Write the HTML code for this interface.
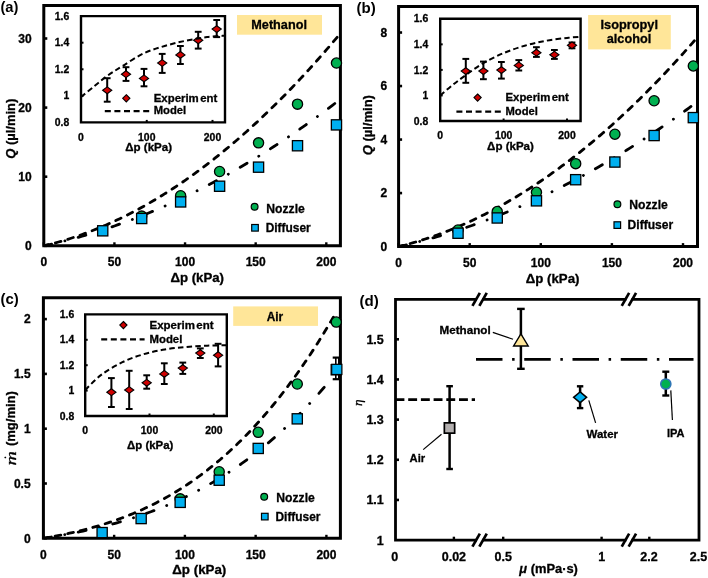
<!DOCTYPE html><html><head><meta charset="utf-8"><style>html,body{margin:0;padding:0;background:#fff;}svg{display:block;filter:blur(0.35px);}text{stroke:#000;stroke-width:0.3px;paint-order:fill;font-family:'Liberation Sans', sans-serif;fill:#000;}</style></head><body>
<svg width="708" height="578" viewBox="0 0 708 578">
<rect width="708" height="578" fill="#fff"/>
<clipPath id="clipa"><rect x="43.8" y="5.4" width="296.6" height="240.4"/></clipPath>
<g clip-path="url(#clipa)">
<path d="M43.8 245.8 L46.75 245.1 L49.69 244.37 L52.64 243.62 L55.58 242.83 L58.53 242.02 L61.47 241.18 L64.42 240.31 L67.36 239.41 L70.31 238.48 L73.25 237.53 L76.2 236.55 L79.14 235.54 L82.09 234.5 L85.03 233.43 L87.98 232.33 L90.92 231.21 L93.87 230.06 L96.81 228.88 L99.76 227.67 L102.7 226.43 L105.65 225.17 L108.59 223.87 L111.54 222.55 L114.48 221.2 L117.43 219.82 L120.37 218.42 L123.32 216.98 L126.26 215.52 L129.21 214.03 L132.15 212.51 L135.1 210.96 L138.04 209.38 L140.99 207.78 L143.93 206.14 L146.88 204.48 L149.82 202.79 L152.77 201.08 L155.71 199.33 L158.66 197.56 L161.6 195.75 L164.55 193.92 L167.49 192.06 L170.44 190.18 L173.38 188.26 L176.33 186.32 L179.27 184.34 L182.22 182.34 L185.16 180.32 L188.11 178.26 L191.05 176.17 L194 174.06 L196.94 171.92 L199.89 169.75 L202.83 167.55 L205.78 165.32 L208.72 163.07 L211.67 160.78 L214.61 158.47 L217.56 156.13 L220.5 153.77 L223.45 151.37 L226.39 148.95 L229.34 146.49 L232.28 144.01 L235.23 141.5 L238.17 138.96 L241.12 136.4 L244.06 133.8 L247.01 131.18 L249.95 128.53 L252.9 125.85 L255.84 123.15 L258.79 120.41 L261.73 117.65 L264.68 114.85 L267.62 112.03 L270.57 109.18 L273.51 106.31 L276.46 103.4 L279.41 100.47 L282.35 97.51 L285.3 94.52 L288.24 91.5 L291.19 88.45 L294.13 85.38 L297.08 82.28 L300.02 79.14 L302.97 75.98 L305.91 72.8 L308.86 69.58 L311.8 66.34 L314.75 63.06 L317.69 59.76 L320.64 56.43 L323.58 53.08 L326.53 49.69 L329.47 46.28 L332.42 42.83 L335.36 39.36 L338.31 35.86" fill="none" stroke="#000" stroke-width="2.8" stroke-dasharray="5.8 7.1" stroke-linecap="round" stroke-dashoffset="1"/>
<path d="M43.8 245.8 L46.75 245.16 L49.69 244.51 L52.64 243.84 L55.58 243.15 L58.53 242.45 L61.47 241.73 L64.42 240.99 L67.36 240.24 L70.31 239.47 L73.25 238.68 L76.2 237.88 L79.14 237.06 L82.09 236.23 L85.03 235.38 L87.98 234.51 L90.92 233.63 L93.87 232.73 L96.81 231.81 L99.76 230.88 L102.7 229.93 L105.65 228.96 L108.59 227.98 L111.54 226.98 L114.48 225.96 L117.43 224.93 L120.37 223.88 L123.32 222.82 L126.26 221.74 L129.21 220.64 L132.15 219.53 L135.1 218.4 L138.04 217.25 L140.99 216.09 L143.93 214.91 L146.88 213.71 L149.82 212.5 L152.77 211.27 L155.71 210.03 L158.66 208.77 L161.6 207.49 L164.55 206.2 L167.49 204.89 L170.44 203.56 L173.38 202.22 L176.33 200.86 L179.27 199.48 L182.22 198.09 L185.16 196.68 L188.11 195.25 L191.05 193.81 L194 192.35 L196.94 190.88 L199.89 189.39 L202.83 187.88 L205.78 186.36 L208.72 184.82 L211.67 183.26 L214.61 181.69 L217.56 180.1 L220.5 178.49 L223.45 176.87 L226.39 175.23 L229.34 173.58 L232.28 171.91 L235.23 170.22 L238.17 168.52 L241.12 166.8 L244.06 165.06 L247.01 163.31 L249.95 161.54 L252.9 159.75 L255.84 157.95 L258.79 156.13 L261.73 154.29 L264.68 152.44 L267.62 150.57 L270.57 148.69 L273.51 146.79 L276.46 144.87 L279.41 142.94 L282.35 140.99 L285.3 139.02 L288.24 137.04 L291.19 135.04 L294.13 133.02 L297.08 130.99 L300.02 128.94 L302.97 126.88 L305.91 124.8 L308.86 122.7 L311.8 120.58 L314.75 118.45 L317.69 116.31 L320.64 114.14 L323.58 111.96 L326.53 109.77 L329.47 107.55 L332.42 105.32 L335.36 103.08 L338.31 100.82" fill="none" stroke="#000" stroke-width="2.8" stroke-dasharray="8 13.65 0.1 13.65" stroke-linecap="round" stroke-dashoffset="0"/>
</g>
<path d="M43.8 5.4H340.4V245.8H43.8Z" fill="none" stroke="#000" stroke-width="3" stroke-linejoin="miter"/>
<line x1="43.8" y1="245.8" x2="47.3" y2="245.8" stroke="#000" stroke-width="2.6"/>
<line x1="43.8" y1="176.7" x2="47.3" y2="176.7" stroke="#000" stroke-width="2.6"/>
<line x1="43.8" y1="107.6" x2="47.3" y2="107.6" stroke="#000" stroke-width="2.6"/>
<line x1="43.8" y1="38.5" x2="47.3" y2="38.5" stroke="#000" stroke-width="2.6"/>
<line x1="43.8" y1="245.8" x2="43.8" y2="242.3" stroke="#000" stroke-width="2.4"/>
<line x1="114.42" y1="245.8" x2="114.42" y2="242.3" stroke="#000" stroke-width="2.4"/>
<line x1="185.05" y1="245.8" x2="185.05" y2="242.3" stroke="#000" stroke-width="2.4"/>
<line x1="255.68" y1="245.8" x2="255.68" y2="242.3" stroke="#000" stroke-width="2.4"/>
<line x1="326.3" y1="245.8" x2="326.3" y2="242.3" stroke="#000" stroke-width="2.4"/>
<circle cx="141.69" cy="216.09" r="5.1" fill="#00B050" stroke="#000" stroke-width="1.3"/>
<circle cx="180.64" cy="195.7" r="5.1" fill="#00B050" stroke="#000" stroke-width="1.3"/>
<circle cx="219.6" cy="171.52" r="5.1" fill="#00B050" stroke="#000" stroke-width="1.3"/>
<circle cx="258.55" cy="142.84" r="5.1" fill="#00B050" stroke="#000" stroke-width="1.3"/>
<circle cx="297.51" cy="104.15" r="5.1" fill="#00B050" stroke="#000" stroke-width="1.3"/>
<circle cx="336.47" cy="63.03" r="5.1" fill="#00B050" stroke="#000" stroke-width="1.3"/>
<rect x="97.63" y="225.71" width="10.2" height="10.2" fill="#00B0F0" stroke="#000" stroke-width="1.3"/>
<rect x="136.59" y="213.41" width="10.2" height="10.2" fill="#00B0F0" stroke="#000" stroke-width="1.3"/>
<rect x="175.54" y="196.82" width="10.2" height="10.2" fill="#00B0F0" stroke="#000" stroke-width="1.3"/>
<rect x="214.5" y="181.14" width="10.2" height="10.2" fill="#00B0F0" stroke="#000" stroke-width="1.3"/>
<rect x="253.45" y="162.06" width="10.2" height="10.2" fill="#00B0F0" stroke="#000" stroke-width="1.3"/>
<rect x="292.41" y="140.64" width="10.2" height="10.2" fill="#00B0F0" stroke="#000" stroke-width="1.3"/>
<rect x="331.37" y="119.78" width="10.2" height="10.2" fill="#00B0F0" stroke="#000" stroke-width="1.3"/>
<text x="31.6" y="250.1" font-size="12" font-weight="bold" text-anchor="end">0</text>
<text x="31.6" y="181" font-size="12" font-weight="bold" text-anchor="end">10</text>
<text x="31.6" y="111.9" font-size="12" font-weight="bold" text-anchor="end">20</text>
<text x="31.6" y="42.8" font-size="12" font-weight="bold" text-anchor="end">30</text>
<text x="43.8" y="265.9" font-size="12" font-weight="bold" text-anchor="middle">0</text>
<text x="114.42" y="265.9" font-size="12" font-weight="bold" text-anchor="middle">50</text>
<text x="185.05" y="265.9" font-size="12" font-weight="bold" text-anchor="middle">100</text>
<text x="255.68" y="265.9" font-size="12" font-weight="bold" text-anchor="middle">150</text>
<text x="326.3" y="265.9" font-size="12" font-weight="bold" text-anchor="middle">200</text>
<circle cx="254.6" cy="206.8" r="3.4" fill="#00B050" stroke="#000" stroke-width="1.2"/>
<rect x="251.7" y="224.5" width="6.6" height="6.6" fill="#00B0F0" stroke="#000" stroke-width="1.2"/>
<text x="266.3" y="212.8" font-size="12" font-weight="bold" textLength="38.5" lengthAdjust="spacingAndGlyphs">Nozzle</text>
<text x="265.7" y="231.7" font-size="12" font-weight="bold" textLength="45" lengthAdjust="spacingAndGlyphs">Diffuser</text>
<rect x="237" y="15" width="85" height="19.7" fill="#FFE699"/>
<text x="251.3" y="28.8" font-size="12.5" font-weight="bold" textLength="55.6" lengthAdjust="spacingAndGlyphs">Methanol</text>
<clipPath id="clipb"><rect x="398.6" y="6.6" width="298.9" height="240"/></clipPath>
<g clip-path="url(#clipb)">
<path d="M398.6 246.6 L401.56 245.87 L404.53 245.1 L407.49 244.32 L410.46 243.5 L413.42 242.66 L416.39 241.79 L419.35 240.9 L422.32 239.97 L425.28 239.02 L428.25 238.05 L431.21 237.04 L434.18 236.01 L437.14 234.96 L440.11 233.87 L443.07 232.76 L446.04 231.62 L449 230.46 L451.97 229.27 L454.93 228.05 L457.9 226.8 L460.86 225.53 L463.83 224.23 L466.79 222.9 L469.76 221.55 L472.72 220.17 L475.69 218.76 L478.65 217.33 L481.62 215.87 L484.58 214.38 L487.55 212.86 L490.51 211.32 L493.48 209.75 L496.44 208.16 L499.41 206.53 L502.37 204.88 L505.34 203.21 L508.3 201.5 L511.27 199.77 L514.23 198.02 L517.19 196.23 L520.16 194.42 L523.12 192.58 L526.09 190.72 L529.05 188.83 L532.02 186.91 L534.98 184.96 L537.95 182.99 L540.91 180.99 L543.88 178.96 L546.84 176.91 L549.81 174.83 L552.77 172.72 L555.74 170.59 L558.7 168.43 L561.67 166.24 L564.63 164.02 L567.6 161.78 L570.56 159.51 L573.53 157.22 L576.49 154.89 L579.46 152.54 L582.42 150.17 L585.39 147.76 L588.35 145.33 L591.32 142.88 L594.28 140.39 L597.25 137.88 L600.21 135.34 L603.18 132.78 L606.14 130.18 L609.11 127.57 L612.07 124.92 L615.04 122.25 L618 119.55 L620.97 116.82 L623.93 114.07 L626.89 111.29 L629.86 108.48 L632.82 105.64 L635.79 102.78 L638.75 99.9 L641.72 96.98 L644.68 94.04 L647.65 91.07 L650.61 88.07 L653.58 85.05 L656.54 82 L659.51 78.92 L662.47 75.82 L665.44 72.69 L668.4 69.53 L671.37 66.35 L674.33 63.14 L677.3 59.9 L680.26 56.63 L683.23 53.34 L686.19 50.02 L689.16 46.68 L692.12 43.3 L695.09 39.9" fill="none" stroke="#000" stroke-width="2.8" stroke-dasharray="5.8 7.1" stroke-linecap="round" stroke-dashoffset="1"/>
<path d="M398.6 246.6 L401.56 245.93 L404.53 245.24 L407.49 244.54 L410.46 243.82 L413.42 243.09 L416.39 242.34 L419.35 241.58 L422.32 240.8 L425.28 240.01 L428.25 239.2 L431.21 238.37 L434.18 237.53 L437.14 236.68 L440.11 235.81 L443.07 234.92 L446.04 234.02 L449 233.1 L451.97 232.17 L454.93 231.22 L457.9 230.26 L460.86 229.28 L463.83 228.29 L466.79 227.28 L469.76 226.25 L472.72 225.21 L475.69 224.16 L478.65 223.09 L481.62 222 L484.58 220.9 L487.55 219.78 L490.51 218.65 L493.48 217.51 L496.44 216.34 L499.41 215.16 L502.37 213.97 L505.34 212.76 L508.3 211.54 L511.27 210.3 L514.23 209.04 L517.19 207.77 L520.16 206.49 L523.12 205.19 L526.09 203.87 L529.05 202.54 L532.02 201.19 L534.98 199.83 L537.95 198.45 L540.91 197.06 L543.88 195.65 L546.84 194.23 L549.81 192.79 L552.77 191.34 L555.74 189.87 L558.7 188.38 L561.67 186.88 L564.63 185.37 L567.6 183.83 L570.56 182.29 L573.53 180.73 L576.49 179.15 L579.46 177.56 L582.42 175.95 L585.39 174.33 L588.35 172.69 L591.32 171.03 L594.28 169.36 L597.25 167.68 L600.21 165.98 L603.18 164.26 L606.14 162.53 L609.11 160.79 L612.07 159.03 L615.04 157.25 L618 155.46 L620.97 153.65 L623.93 151.83 L626.89 149.99 L629.86 148.13 L632.82 146.27 L635.79 144.38 L638.75 142.48 L641.72 140.57 L644.68 138.64 L647.65 136.69 L650.61 134.73 L653.58 132.75 L656.54 130.76 L659.51 128.75 L662.47 126.73 L665.44 124.69 L668.4 122.64 L671.37 120.57 L674.33 118.49 L677.3 116.39 L680.26 114.28 L683.23 112.15 L686.19 110 L689.16 107.84 L692.12 105.66 L695.09 103.47" fill="none" stroke="#000" stroke-width="2.8" stroke-dasharray="8 13.65 0.1 13.65" stroke-linecap="round" stroke-dashoffset="0"/>
</g>
<path d="M398.6 6.6H697.5V246.6H398.6Z" fill="none" stroke="#000" stroke-width="3" stroke-linejoin="miter"/>
<line x1="398.6" y1="246.6" x2="402.1" y2="246.6" stroke="#000" stroke-width="2.6"/>
<line x1="398.6" y1="193.08" x2="402.1" y2="193.08" stroke="#000" stroke-width="2.6"/>
<line x1="398.6" y1="139.56" x2="402.1" y2="139.56" stroke="#000" stroke-width="2.6"/>
<line x1="398.6" y1="86.04" x2="402.1" y2="86.04" stroke="#000" stroke-width="2.6"/>
<line x1="398.6" y1="32.52" x2="402.1" y2="32.52" stroke="#000" stroke-width="2.6"/>
<line x1="398.6" y1="246.6" x2="398.6" y2="243.1" stroke="#000" stroke-width="2.4"/>
<line x1="469.7" y1="246.6" x2="469.7" y2="243.1" stroke="#000" stroke-width="2.4"/>
<line x1="540.8" y1="246.6" x2="540.8" y2="243.1" stroke="#000" stroke-width="2.4"/>
<line x1="611.9" y1="246.6" x2="611.9" y2="243.1" stroke="#000" stroke-width="2.4"/>
<line x1="683" y1="246.6" x2="683" y2="243.1" stroke="#000" stroke-width="2.4"/>
<circle cx="458.03" cy="230.01" r="5.1" fill="#00B050" stroke="#000" stroke-width="1.3"/>
<circle cx="497.24" cy="211.54" r="5.1" fill="#00B050" stroke="#000" stroke-width="1.3"/>
<circle cx="536.46" cy="192.28" r="5.1" fill="#00B050" stroke="#000" stroke-width="1.3"/>
<circle cx="575.68" cy="163.64" r="5.1" fill="#00B050" stroke="#000" stroke-width="1.3"/>
<circle cx="614.9" cy="134.21" r="5.1" fill="#00B050" stroke="#000" stroke-width="1.3"/>
<circle cx="654.11" cy="100.76" r="5.1" fill="#00B050" stroke="#000" stroke-width="1.3"/>
<circle cx="693.33" cy="65.97" r="5.1" fill="#00B050" stroke="#000" stroke-width="1.3"/>
<rect x="452.93" y="228.12" width="10.2" height="10.2" fill="#00B0F0" stroke="#000" stroke-width="1.3"/>
<rect x="492.14" y="212.87" width="10.2" height="10.2" fill="#00B0F0" stroke="#000" stroke-width="1.3"/>
<rect x="531.36" y="195.74" width="10.2" height="10.2" fill="#00B0F0" stroke="#000" stroke-width="1.3"/>
<rect x="570.58" y="174.6" width="10.2" height="10.2" fill="#00B0F0" stroke="#000" stroke-width="1.3"/>
<rect x="609.8" y="156.94" width="10.2" height="10.2" fill="#00B0F0" stroke="#000" stroke-width="1.3"/>
<rect x="649.01" y="130.45" width="10.2" height="10.2" fill="#00B0F0" stroke="#000" stroke-width="1.3"/>
<rect x="688.23" y="112.52" width="10.2" height="10.2" fill="#00B0F0" stroke="#000" stroke-width="1.3"/>
<text x="387.2" y="250.9" font-size="12" font-weight="bold" text-anchor="end">0</text>
<text x="387.2" y="197.38" font-size="12" font-weight="bold" text-anchor="end">2</text>
<text x="387.2" y="143.86" font-size="12" font-weight="bold" text-anchor="end">4</text>
<text x="387.2" y="90.34" font-size="12" font-weight="bold" text-anchor="end">6</text>
<text x="387.2" y="36.82" font-size="12" font-weight="bold" text-anchor="end">8</text>
<text x="398.6" y="266.6" font-size="12" font-weight="bold" text-anchor="middle">0</text>
<text x="469.7" y="266.6" font-size="12" font-weight="bold" text-anchor="middle">50</text>
<text x="540.8" y="266.6" font-size="12" font-weight="bold" text-anchor="middle">100</text>
<text x="611.9" y="266.6" font-size="12" font-weight="bold" text-anchor="middle">150</text>
<text x="683" y="266.6" font-size="12" font-weight="bold" text-anchor="middle">200</text>
<circle cx="617.4" cy="204.2" r="3.4" fill="#00B050" stroke="#000" stroke-width="1.2"/>
<rect x="614" y="221.8" width="6.6" height="6.6" fill="#00B0F0" stroke="#000" stroke-width="1.2"/>
<text x="629.3" y="209.1" font-size="12" font-weight="bold" textLength="38.5" lengthAdjust="spacingAndGlyphs">Nozzle</text>
<text x="627.6" y="228.8" font-size="12" font-weight="bold" textLength="45.6" lengthAdjust="spacingAndGlyphs">Diffuser</text>
<rect x="588.1" y="15" width="82.7" height="34.4" fill="#FFE699"/>
<text x="600.5" y="28.9" font-size="12.5" font-weight="bold" textLength="57.5" lengthAdjust="spacingAndGlyphs">Isopropyl</text>
<text x="606.8" y="43.4" font-size="12.5" font-weight="bold" textLength="44.4" lengthAdjust="spacingAndGlyphs">alcohol</text>
<clipPath id="clipc"><rect x="43.4" y="297.7" width="297" height="240.6"/></clipPath>
<g clip-path="url(#clipc)">
<path d="M43.4 538.3 L46.3 537.8 L49.2 537.29 L52.1 536.76 L55 536.21 L57.9 535.65 L60.8 535.08 L63.71 534.48 L66.61 533.87 L69.51 533.24 L72.41 532.59 L75.31 531.93 L78.21 531.24 L81.11 530.53 L84.01 529.8 L86.91 529.04 L89.81 528.27 L92.71 527.47 L95.61 526.64 L98.51 525.79 L101.41 524.92 L104.32 524.02 L107.22 523.09 L110.12 522.14 L113.02 521.16 L115.92 520.15 L118.82 519.11 L121.72 518.04 L124.62 516.94 L127.52 515.81 L130.42 514.64 L133.32 513.45 L136.22 512.22 L139.12 510.96 L142.03 509.67 L144.93 508.34 L147.83 506.97 L150.73 505.57 L153.63 504.13 L156.53 502.65 L159.43 501.14 L162.33 499.59 L165.23 497.99 L168.13 496.36 L171.03 494.69 L173.93 492.98 L176.83 491.22 L179.74 489.42 L182.64 487.58 L185.54 485.7 L188.44 483.77 L191.34 481.8 L194.24 479.78 L197.14 477.71 L200.04 475.6 L202.94 473.44 L205.84 471.23 L208.74 468.98 L211.64 466.67 L214.54 464.32 L217.45 461.91 L220.35 459.45 L223.25 456.94 L226.15 454.38 L229.05 451.77 L231.95 449.1 L234.85 446.37 L237.75 443.6 L240.65 440.76 L243.55 437.87 L246.45 434.93 L249.35 431.92 L252.25 428.86 L255.15 425.74 L258.06 422.56 L260.96 419.31 L263.86 416.01 L266.76 412.65 L269.66 409.22 L272.56 405.74 L275.46 402.19 L278.36 398.57 L281.26 394.89 L284.16 391.15 L287.06 387.34 L289.96 383.46 L292.86 379.52 L295.77 375.51 L298.67 371.43 L301.57 367.28 L304.47 363.06 L307.37 358.77 L310.27 354.41 L313.17 349.98 L316.07 345.48 L318.97 340.9 L321.87 336.26 L324.77 331.53 L327.67 326.74 L330.57 321.86 L333.47 316.92" fill="none" stroke="#000" stroke-width="2.8" stroke-dasharray="5.8 7.1" stroke-linecap="round" stroke-dashoffset="1"/>
<path d="M43.4 538.3 L46.23 537.85 L49.06 537.4 L51.89 536.93 L54.72 536.46 L57.55 535.98 L60.38 535.48 L63.21 534.98 L66.04 534.46 L68.87 533.93 L71.7 533.39 L74.53 532.84 L77.36 532.28 L80.19 531.7 L83.02 531.11 L85.85 530.5 L88.68 529.88 L91.51 529.24 L94.34 528.59 L97.17 527.92 L100 527.24 L102.83 526.54 L105.66 525.83 L108.49 525.09 L111.32 524.34 L114.15 523.57 L116.98 522.79 L119.81 521.98 L122.64 521.15 L125.47 520.31 L128.3 519.44 L131.13 518.56 L133.96 517.65 L136.79 516.72 L139.62 515.77 L142.45 514.8 L145.28 513.8 L148.11 512.79 L150.94 511.74 L153.77 510.68 L156.6 509.59 L159.43 508.48 L162.26 507.34 L165.09 506.17 L167.92 504.98 L170.75 503.77 L173.58 502.53 L176.41 501.26 L179.24 499.96 L182.07 498.63 L184.9 497.28 L187.73 495.9 L190.56 494.49 L193.39 493.05 L196.22 491.58 L199.05 490.08 L201.88 488.55 L204.71 486.99 L207.54 485.4 L210.37 483.77 L213.2 482.11 L216.03 480.42 L218.86 478.7 L221.69 476.94 L224.52 475.15 L227.35 473.33 L230.18 471.47 L233.01 469.58 L235.84 467.65 L238.67 465.68 L241.5 463.68 L244.33 461.64 L247.16 459.57 L249.99 457.45 L252.82 455.3 L255.65 453.12 L258.48 450.89 L261.31 448.62 L264.14 446.31 L266.97 443.97 L269.8 441.58 L272.63 439.15 L275.46 436.69 L278.29 434.18 L281.12 431.62 L283.95 429.03 L286.78 426.39 L289.61 423.71 L292.44 420.99 L295.27 418.22 L298.1 415.41 L300.93 412.55 L303.76 409.65 L306.59 406.7 L309.42 403.71 L312.25 400.67 L315.08 397.59 L317.91 394.45 L320.74 391.27 L323.57 388.04 L326.4 384.76" fill="none" stroke="#000" stroke-width="2.8" stroke-dasharray="8 13.65 0.1 13.65" stroke-linecap="round" stroke-dashoffset="0"/>
</g>
<path d="M43.4 297.7H340.4V538.3H43.4Z" fill="none" stroke="#000" stroke-width="3" stroke-linejoin="miter"/>
<line x1="43.4" y1="538.3" x2="46.9" y2="538.3" stroke="#000" stroke-width="2.6"/>
<line x1="43.4" y1="483.5" x2="46.9" y2="483.5" stroke="#000" stroke-width="2.6"/>
<line x1="43.4" y1="428.7" x2="46.9" y2="428.7" stroke="#000" stroke-width="2.6"/>
<line x1="43.4" y1="373.9" x2="46.9" y2="373.9" stroke="#000" stroke-width="2.6"/>
<line x1="43.4" y1="319.1" x2="46.9" y2="319.1" stroke="#000" stroke-width="2.6"/>
<line x1="43.4" y1="538.3" x2="43.4" y2="534.8" stroke="#000" stroke-width="2.4"/>
<line x1="114.15" y1="538.3" x2="114.15" y2="534.8" stroke="#000" stroke-width="2.4"/>
<line x1="184.9" y1="538.3" x2="184.9" y2="534.8" stroke="#000" stroke-width="2.4"/>
<line x1="255.65" y1="538.3" x2="255.65" y2="534.8" stroke="#000" stroke-width="2.4"/>
<line x1="326.4" y1="538.3" x2="326.4" y2="534.8" stroke="#000" stroke-width="2.4"/>
<circle cx="180.19" cy="498.84" r="5.1" fill="#00B050" stroke="#000" stroke-width="1.3"/>
<circle cx="219.21" cy="471.77" r="5.1" fill="#00B050" stroke="#000" stroke-width="1.3"/>
<circle cx="258.23" cy="432.32" r="5.1" fill="#00B050" stroke="#000" stroke-width="1.3"/>
<circle cx="297.26" cy="383.98" r="5.1" fill="#00B050" stroke="#000" stroke-width="1.3"/>
<circle cx="336.28" cy="322.06" r="5.1" fill="#00B050" stroke="#000" stroke-width="1.3"/>
<rect x="97.04" y="527.5" width="10.2" height="10.2" fill="#00B0F0" stroke="#000" stroke-width="1.3"/>
<rect x="136.06" y="513.47" width="10.2" height="10.2" fill="#00B0F0" stroke="#000" stroke-width="1.3"/>
<rect x="175.09" y="497.25" width="10.2" height="10.2" fill="#00B0F0" stroke="#000" stroke-width="1.3"/>
<rect x="214.11" y="475.11" width="10.2" height="10.2" fill="#00B0F0" stroke="#000" stroke-width="1.3"/>
<rect x="253.13" y="443.33" width="10.2" height="10.2" fill="#00B0F0" stroke="#000" stroke-width="1.3"/>
<rect x="292.16" y="413.74" width="10.2" height="10.2" fill="#00B0F0" stroke="#000" stroke-width="1.3"/>
<rect x="331.18" y="364.64" width="10.2" height="10.2" fill="#00B0F0" stroke="#000" stroke-width="1.3"/>
<text x="30.6" y="542.6" font-size="12" font-weight="bold" text-anchor="end">0</text>
<text x="30.6" y="487.8" font-size="12" font-weight="bold" text-anchor="end">0.5</text>
<text x="30.6" y="433" font-size="12" font-weight="bold" text-anchor="end">1</text>
<text x="30.6" y="378.2" font-size="12" font-weight="bold" text-anchor="end">1.5</text>
<text x="30.6" y="323.4" font-size="12" font-weight="bold" text-anchor="end">2</text>
<text x="43.4" y="558.7" font-size="12" font-weight="bold" text-anchor="middle">0</text>
<text x="114.15" y="558.7" font-size="12" font-weight="bold" text-anchor="middle">50</text>
<text x="184.9" y="558.7" font-size="12" font-weight="bold" text-anchor="middle">100</text>
<text x="255.65" y="558.7" font-size="12" font-weight="bold" text-anchor="middle">150</text>
<text x="326.4" y="558.7" font-size="12" font-weight="bold" text-anchor="middle">200</text>
<circle cx="264.2" cy="496.8" r="3.4" fill="#00B050" stroke="#000" stroke-width="1.2"/>
<rect x="261.5" y="513.3" width="6.6" height="6.6" fill="#00B0F0" stroke="#000" stroke-width="1.2"/>
<text x="276.3" y="501.9" font-size="12" font-weight="bold" textLength="38.5" lengthAdjust="spacingAndGlyphs">Nozzle</text>
<text x="275.5" y="521" font-size="12" font-weight="bold" textLength="45" lengthAdjust="spacingAndGlyphs">Diffuser</text>
<rect x="233.2" y="306.4" width="84.8" height="19.5" fill="#FFE699"/>
<text x="266.7" y="320.8" font-size="12.5" font-weight="bold" textLength="16.5" lengthAdjust="spacingAndGlyphs">Air</text>
<line x1="335.8" y1="357.5" x2="335.8" y2="364.5" stroke="#000" stroke-width="1.6"/>
<line x1="338.6" y1="357.5" x2="338.6" y2="364.5" stroke="#000" stroke-width="1.2"/>
<line x1="335.8" y1="374.3" x2="335.8" y2="379.3" stroke="#000" stroke-width="1.6"/>
<line x1="338.6" y1="374.3" x2="338.6" y2="379.3" stroke="#000" stroke-width="1.2"/>
<line x1="332.7" y1="357.6" x2="340.5" y2="357.6" stroke="#000" stroke-width="2.2"/>
<line x1="332.7" y1="379.2" x2="340.5" y2="379.2" stroke="#000" stroke-width="2.2"/>
<rect x="331.7" y="364.3" width="10.2" height="10.2" fill="#00B0F0" stroke="#000" stroke-width="1.2"/>
<rect x="81" y="16.1" width="144" height="106.3" fill="#fff"/>
<line x1="107.2" y1="78.2" x2="107.2" y2="101.7" stroke="#000" stroke-width="2"/>
<line x1="103.8" y1="78.2" x2="110.6" y2="78.2" stroke="#000" stroke-width="2"/>
<line x1="103.8" y1="101.7" x2="110.6" y2="101.7" stroke="#000" stroke-width="2"/>
<line x1="126" y1="67.2" x2="126" y2="80.9" stroke="#000" stroke-width="2"/>
<line x1="122.6" y1="67.2" x2="129.4" y2="67.2" stroke="#000" stroke-width="2"/>
<line x1="122.6" y1="80.9" x2="129.4" y2="80.9" stroke="#000" stroke-width="2"/>
<line x1="144" y1="68.9" x2="144" y2="86.3" stroke="#000" stroke-width="2"/>
<line x1="140.6" y1="68.9" x2="147.4" y2="68.9" stroke="#000" stroke-width="2"/>
<line x1="140.6" y1="86.3" x2="147.4" y2="86.3" stroke="#000" stroke-width="2"/>
<line x1="162.2" y1="53.9" x2="162.2" y2="72.9" stroke="#000" stroke-width="2"/>
<line x1="158.8" y1="53.9" x2="165.6" y2="53.9" stroke="#000" stroke-width="2"/>
<line x1="158.8" y1="72.9" x2="165.6" y2="72.9" stroke="#000" stroke-width="2"/>
<line x1="180.4" y1="46" x2="180.4" y2="64" stroke="#000" stroke-width="2"/>
<line x1="177" y1="46" x2="183.8" y2="46" stroke="#000" stroke-width="2"/>
<line x1="177" y1="64" x2="183.8" y2="64" stroke="#000" stroke-width="2"/>
<line x1="198.2" y1="31.8" x2="198.2" y2="48.6" stroke="#000" stroke-width="2"/>
<line x1="194.8" y1="31.8" x2="201.6" y2="31.8" stroke="#000" stroke-width="2"/>
<line x1="194.8" y1="48.6" x2="201.6" y2="48.6" stroke="#000" stroke-width="2"/>
<line x1="216.7" y1="20" x2="216.7" y2="37.1" stroke="#000" stroke-width="2"/>
<line x1="213.3" y1="20" x2="220.1" y2="20" stroke="#000" stroke-width="2"/>
<line x1="213.3" y1="37.1" x2="220.1" y2="37.1" stroke="#000" stroke-width="2"/>
<path d="M107.2 86.9L111.8 90.3L107.2 93.7L102.6 90.3Z" fill="#D00000" stroke="#000" stroke-width="1.1" stroke-linejoin="miter"/>
<path d="M126 70.8L130.6 74.2L126 77.6L121.4 74.2Z" fill="#D00000" stroke="#000" stroke-width="1.1" stroke-linejoin="miter"/>
<path d="M144 75L148.6 78.4L144 81.8L139.4 78.4Z" fill="#D00000" stroke="#000" stroke-width="1.1" stroke-linejoin="miter"/>
<path d="M162.2 59.6L166.8 63L162.2 66.4L157.6 63Z" fill="#D00000" stroke="#000" stroke-width="1.1" stroke-linejoin="miter"/>
<path d="M180.4 51.5L185 54.9L180.4 58.3L175.8 54.9Z" fill="#D00000" stroke="#000" stroke-width="1.1" stroke-linejoin="miter"/>
<path d="M198.2 36.9L202.8 40.3L198.2 43.7L193.6 40.3Z" fill="#D00000" stroke="#000" stroke-width="1.1" stroke-linejoin="miter"/>
<path d="M216.7 25.7L221.3 29.1L216.7 32.5L212.1 29.1Z" fill="#D00000" stroke="#000" stroke-width="1.1" stroke-linejoin="miter"/>
<clipPath id="iclipa"><rect x="81" y="16.1" width="144" height="106.3"/></clipPath>
<g clip-path="url(#iclipa)">
<path d="M81 97 C83.2 95.22 89.78 89.85 94.2 86.3 C98.62 82.75 102.8 79.07 107.5 75.7 C112.2 72.33 116.38 69.82 122.4 66.1 C128.42 62.38 136.55 56.75 143.6 53.4 C150.65 50.05 157.65 48.12 164.7 46 C171.75 43.88 178.83 42.18 185.9 40.7 C192.97 39.22 200.42 37.95 207.1 37.1 C213.78 36.25 222.85 35.85 226 35.6" fill="none" stroke="#000" stroke-width="2" stroke-dasharray="5.5 3.2"/>
</g>
<path d="M81 16.1H225V122.4H81Z" fill="none" stroke="#000" stroke-width="2.4" stroke-linejoin="miter"/>
<line x1="81" y1="42.68" x2="83.5" y2="42.68" stroke="#000" stroke-width="2"/>
<line x1="81" y1="69.26" x2="83.5" y2="69.26" stroke="#000" stroke-width="2"/>
<line x1="81" y1="95.84" x2="83.5" y2="95.84" stroke="#000" stroke-width="2"/>
<line x1="146.75" y1="122.4" x2="146.75" y2="119.9" stroke="#000" stroke-width="2"/>
<line x1="212.5" y1="122.4" x2="212.5" y2="119.9" stroke="#000" stroke-width="2"/>
<text x="69.3" y="19.7" font-size="10.4" font-weight="bold" text-anchor="end">1.6</text>
<text x="69.3" y="46.28" font-size="10.4" font-weight="bold" text-anchor="end">1.4</text>
<text x="69.3" y="72.86" font-size="10.4" font-weight="bold" text-anchor="end">1.2</text>
<text x="69.3" y="99.44" font-size="10.4" font-weight="bold" text-anchor="end">1</text>
<text x="69.3" y="126.02" font-size="10.4" font-weight="bold" text-anchor="end">0.8</text>
<text x="81" y="140.6" font-size="10.4" font-weight="bold" text-anchor="middle">0</text>
<text x="146.75" y="140.6" font-size="10.4" font-weight="bold" text-anchor="middle">100</text>
<text x="212.5" y="140.6" font-size="10.4" font-weight="bold" text-anchor="middle">200</text>
<text x="125.3" y="151.2" font-size="11" font-weight="bold" textLength="46.8" lengthAdjust="spacingAndGlyphs">Δp (kPa)</text>
<path d="M126.3 94.7L129.9 98.3L126.3 101.9L122.7 98.3Z" fill="#D00000" stroke="#000" stroke-width="1.1" stroke-linejoin="miter"/>
<line x1="104.8" y1="111.2" x2="149.3" y2="111.2" stroke="#000" stroke-width="2.2" stroke-dasharray="6 3.6"/>
<text x="153.7" y="101.9" font-size="11" font-weight="bold" textLength="63.6" lengthAdjust="spacingAndGlyphs">Experim<tspan dx="1.3">ent</tspan></text>
<text x="153.7" y="114.3" font-size="11" font-weight="bold" textLength="32.5" lengthAdjust="spacingAndGlyphs">Model</text>
<rect x="440.2" y="18.8" width="140.4" height="102.2" fill="#fff"/>
<line x1="465.8" y1="58.9" x2="465.8" y2="82.8" stroke="#000" stroke-width="2"/>
<line x1="462.4" y1="58.9" x2="469.2" y2="58.9" stroke="#000" stroke-width="2"/>
<line x1="462.4" y1="82.8" x2="469.2" y2="82.8" stroke="#000" stroke-width="2"/>
<line x1="483.4" y1="61.6" x2="483.4" y2="79.2" stroke="#000" stroke-width="2"/>
<line x1="480" y1="61.6" x2="486.8" y2="61.6" stroke="#000" stroke-width="2"/>
<line x1="480" y1="79.2" x2="486.8" y2="79.2" stroke="#000" stroke-width="2"/>
<line x1="501.4" y1="62" x2="501.4" y2="78.6" stroke="#000" stroke-width="2"/>
<line x1="498" y1="62" x2="504.8" y2="62" stroke="#000" stroke-width="2"/>
<line x1="498" y1="78.6" x2="504.8" y2="78.6" stroke="#000" stroke-width="2"/>
<line x1="518.8" y1="60.1" x2="518.8" y2="70.5" stroke="#000" stroke-width="2"/>
<line x1="515.4" y1="60.1" x2="522.2" y2="60.1" stroke="#000" stroke-width="2"/>
<line x1="515.4" y1="70.5" x2="522.2" y2="70.5" stroke="#000" stroke-width="2"/>
<line x1="536.4" y1="47.2" x2="536.4" y2="56.9" stroke="#000" stroke-width="2"/>
<line x1="533" y1="47.2" x2="539.8" y2="47.2" stroke="#000" stroke-width="2"/>
<line x1="533" y1="56.9" x2="539.8" y2="56.9" stroke="#000" stroke-width="2"/>
<line x1="554.4" y1="50" x2="554.4" y2="58.9" stroke="#000" stroke-width="2"/>
<line x1="551" y1="50" x2="557.8" y2="50" stroke="#000" stroke-width="2"/>
<line x1="551" y1="58.9" x2="557.8" y2="58.9" stroke="#000" stroke-width="2"/>
<line x1="572" y1="42.5" x2="572" y2="48.3" stroke="#000" stroke-width="2"/>
<line x1="568.6" y1="42.5" x2="575.4" y2="42.5" stroke="#000" stroke-width="2"/>
<line x1="568.6" y1="48.3" x2="575.4" y2="48.3" stroke="#000" stroke-width="2"/>
<path d="M465.8 67.7L470.4 71.1L465.8 74.5L461.2 71.1Z" fill="#D00000" stroke="#000" stroke-width="1.1" stroke-linejoin="miter"/>
<path d="M483.4 67.7L488 71.1L483.4 74.5L478.8 71.1Z" fill="#D00000" stroke="#000" stroke-width="1.1" stroke-linejoin="miter"/>
<path d="M501.4 66.7L506 70.1L501.4 73.5L496.8 70.1Z" fill="#D00000" stroke="#000" stroke-width="1.1" stroke-linejoin="miter"/>
<path d="M518.8 62L523.4 65.4L518.8 68.8L514.2 65.4Z" fill="#D00000" stroke="#000" stroke-width="1.1" stroke-linejoin="miter"/>
<path d="M536.4 49.3L541 52.7L536.4 56.1L531.8 52.7Z" fill="#D00000" stroke="#000" stroke-width="1.1" stroke-linejoin="miter"/>
<path d="M554.4 51.4L559 54.8L554.4 58.2L549.8 54.8Z" fill="#D00000" stroke="#000" stroke-width="1.1" stroke-linejoin="miter"/>
<path d="M572 41.9L576.6 45.3L572 48.7L567.4 45.3Z" fill="#D00000" stroke="#000" stroke-width="1.1" stroke-linejoin="miter"/>
<clipPath id="iclipb"><rect x="440.2" y="18.8" width="140.4" height="102.2"/></clipPath>
<g clip-path="url(#iclipb)">
<path d="M440.2 95.6 C442.28 93.82 448.5 88.27 452.7 84.9 C456.9 81.53 460.45 78.93 465.4 75.4 C470.35 71.87 476.03 67.42 482.4 63.7 C488.77 59.98 496.55 56.1 503.6 53.1 C510.65 50.1 517.65 47.75 524.7 45.7 C531.75 43.65 538.83 42.1 545.9 40.8 C552.97 39.5 561.08 38.6 567.1 37.9 C573.12 37.2 579.52 36.82 582 36.6" fill="none" stroke="#000" stroke-width="2" stroke-dasharray="5.5 3.2"/>
</g>
<path d="M440.2 18.8H580.6V121H440.2Z" fill="none" stroke="#000" stroke-width="2.4" stroke-linejoin="miter"/>
<line x1="440.2" y1="44.35" x2="442.7" y2="44.35" stroke="#000" stroke-width="2"/>
<line x1="440.2" y1="69.9" x2="442.7" y2="69.9" stroke="#000" stroke-width="2"/>
<line x1="440.2" y1="95.45" x2="442.7" y2="95.45" stroke="#000" stroke-width="2"/>
<line x1="503.6" y1="121" x2="503.6" y2="118.5" stroke="#000" stroke-width="2"/>
<line x1="567" y1="121" x2="567" y2="118.5" stroke="#000" stroke-width="2"/>
<text x="428.2" y="22.4" font-size="10.4" font-weight="bold" text-anchor="end">1.6</text>
<text x="428.2" y="47.95" font-size="10.4" font-weight="bold" text-anchor="end">1.4</text>
<text x="428.2" y="73.5" font-size="10.4" font-weight="bold" text-anchor="end">1.2</text>
<text x="428.2" y="99.05" font-size="10.4" font-weight="bold" text-anchor="end">1</text>
<text x="428.2" y="124.6" font-size="10.4" font-weight="bold" text-anchor="end">0.8</text>
<text x="440.2" y="138.9" font-size="10.4" font-weight="bold" text-anchor="middle">0</text>
<text x="503.6" y="138.9" font-size="10.4" font-weight="bold" text-anchor="middle">100</text>
<text x="567" y="138.9" font-size="10.4" font-weight="bold" text-anchor="middle">200</text>
<text x="487.1" y="149.5" font-size="11" font-weight="bold" textLength="46.8" lengthAdjust="spacingAndGlyphs">Δp (kPa)</text>
<path d="M477.6 94L481.2 97.6L477.6 101.2L474 97.6Z" fill="#D00000" stroke="#000" stroke-width="1.1" stroke-linejoin="miter"/>
<line x1="456.4" y1="111.6" x2="500.8" y2="111.6" stroke="#000" stroke-width="2.2" stroke-dasharray="6 3.6"/>
<text x="505.5" y="101.2" font-size="11" font-weight="bold" textLength="63.3" lengthAdjust="spacingAndGlyphs">Experim<tspan dx="1.3">ent</tspan></text>
<text x="505.5" y="115" font-size="11" font-weight="bold" textLength="32.4" lengthAdjust="spacingAndGlyphs">Model</text>
<rect x="85.2" y="314.4" width="141.6" height="101.6" fill="#fff"/>
<line x1="111.4" y1="378.1" x2="111.4" y2="407" stroke="#000" stroke-width="2"/>
<line x1="108" y1="378.1" x2="114.8" y2="378.1" stroke="#000" stroke-width="2"/>
<line x1="108" y1="407" x2="114.8" y2="407" stroke="#000" stroke-width="2"/>
<line x1="129.2" y1="370.8" x2="129.2" y2="409" stroke="#000" stroke-width="2"/>
<line x1="125.8" y1="370.8" x2="132.6" y2="370.8" stroke="#000" stroke-width="2"/>
<line x1="125.8" y1="409" x2="132.6" y2="409" stroke="#000" stroke-width="2"/>
<line x1="146.7" y1="375.3" x2="146.7" y2="388.7" stroke="#000" stroke-width="2"/>
<line x1="143.3" y1="375.3" x2="150.1" y2="375.3" stroke="#000" stroke-width="2"/>
<line x1="143.3" y1="388.7" x2="150.1" y2="388.7" stroke="#000" stroke-width="2"/>
<line x1="164.3" y1="363.3" x2="164.3" y2="384" stroke="#000" stroke-width="2"/>
<line x1="160.9" y1="363.3" x2="167.7" y2="363.3" stroke="#000" stroke-width="2"/>
<line x1="160.9" y1="384" x2="167.7" y2="384" stroke="#000" stroke-width="2"/>
<line x1="182.8" y1="362.6" x2="182.8" y2="373.9" stroke="#000" stroke-width="2"/>
<line x1="179.4" y1="362.6" x2="186.2" y2="362.6" stroke="#000" stroke-width="2"/>
<line x1="179.4" y1="373.9" x2="186.2" y2="373.9" stroke="#000" stroke-width="2"/>
<line x1="200.3" y1="348.4" x2="200.3" y2="358" stroke="#000" stroke-width="2"/>
<line x1="196.9" y1="348.4" x2="203.7" y2="348.4" stroke="#000" stroke-width="2"/>
<line x1="196.9" y1="358" x2="203.7" y2="358" stroke="#000" stroke-width="2"/>
<line x1="218.1" y1="343.8" x2="218.1" y2="366.4" stroke="#000" stroke-width="2"/>
<line x1="214.7" y1="343.8" x2="221.5" y2="343.8" stroke="#000" stroke-width="2"/>
<line x1="214.7" y1="366.4" x2="221.5" y2="366.4" stroke="#000" stroke-width="2"/>
<path d="M111.4 388.8L116 392.2L111.4 395.6L106.8 392.2Z" fill="#D00000" stroke="#000" stroke-width="1.1" stroke-linejoin="miter"/>
<path d="M129.2 386.6L133.8 390L129.2 393.4L124.6 390Z" fill="#D00000" stroke="#000" stroke-width="1.1" stroke-linejoin="miter"/>
<path d="M146.7 379.4L151.3 382.8L146.7 386.2L142.1 382.8Z" fill="#D00000" stroke="#000" stroke-width="1.1" stroke-linejoin="miter"/>
<path d="M164.3 370.5L168.9 373.9L164.3 377.3L159.7 373.9Z" fill="#D00000" stroke="#000" stroke-width="1.1" stroke-linejoin="miter"/>
<path d="M182.8 364.7L187.4 368.1L182.8 371.5L178.2 368.1Z" fill="#D00000" stroke="#000" stroke-width="1.1" stroke-linejoin="miter"/>
<path d="M200.3 349.7L204.9 353.1L200.3 356.5L195.7 353.1Z" fill="#D00000" stroke="#000" stroke-width="1.1" stroke-linejoin="miter"/>
<path d="M218.1 351.8L222.7 355.2L218.1 358.6L213.5 355.2Z" fill="#D00000" stroke="#000" stroke-width="1.1" stroke-linejoin="miter"/>
<clipPath id="iclipc"><rect x="85.2" y="314.4" width="141.6" height="101.6"/></clipPath>
<g clip-path="url(#iclipc)">
<path d="M85.2 390 C87.87 387.48 95 379.53 101.2 374.9 C107.4 370.27 115.33 365.65 122.4 362.2 C129.47 358.75 136.55 356.32 143.6 354.2 C150.65 352.08 157.65 350.7 164.7 349.5 C171.75 348.3 178.83 347.63 185.9 347 C192.97 346.37 200.08 346 207.1 345.7 C214.12 345.4 224.52 345.28 228 345.2" fill="none" stroke="#000" stroke-width="2" stroke-dasharray="5.5 3.2"/>
</g>
<path d="M85.2 314.4H226.8V416H85.2Z" fill="none" stroke="#000" stroke-width="2.4" stroke-linejoin="miter"/>
<line x1="85.2" y1="339.8" x2="87.7" y2="339.8" stroke="#000" stroke-width="2"/>
<line x1="85.2" y1="365.2" x2="87.7" y2="365.2" stroke="#000" stroke-width="2"/>
<line x1="85.2" y1="390.6" x2="87.7" y2="390.6" stroke="#000" stroke-width="2"/>
<line x1="149.5" y1="416" x2="149.5" y2="413.5" stroke="#000" stroke-width="2"/>
<line x1="213.8" y1="416" x2="213.8" y2="413.5" stroke="#000" stroke-width="2"/>
<text x="74.3" y="318" font-size="10.4" font-weight="bold" text-anchor="end">1.6</text>
<text x="74.3" y="343.4" font-size="10.4" font-weight="bold" text-anchor="end">1.4</text>
<text x="74.3" y="368.8" font-size="10.4" font-weight="bold" text-anchor="end">1.2</text>
<text x="74.3" y="394.2" font-size="10.4" font-weight="bold" text-anchor="end">1</text>
<text x="74.3" y="419.6" font-size="10.4" font-weight="bold" text-anchor="end">0.8</text>
<text x="85.2" y="434.4" font-size="10.4" font-weight="bold" text-anchor="middle">0</text>
<text x="149.5" y="434.4" font-size="10.4" font-weight="bold" text-anchor="middle">100</text>
<text x="213.8" y="434.4" font-size="10.4" font-weight="bold" text-anchor="middle">200</text>
<text x="127" y="448.6" font-size="11" font-weight="bold" textLength="46.4" lengthAdjust="spacingAndGlyphs">Δp (kPa)</text>
<path d="M123.4 321.5L127 325.1L123.4 328.7L119.8 325.1Z" fill="#D00000" stroke="#000" stroke-width="1.1" stroke-linejoin="miter"/>
<line x1="101.2" y1="339.3" x2="144.6" y2="339.3" stroke="#000" stroke-width="2.2" stroke-dasharray="6 3.6"/>
<text x="149.5" y="328.7" font-size="11" font-weight="bold" textLength="64" lengthAdjust="spacingAndGlyphs">Experim<tspan dx="1.3">ent</tspan></text>
<text x="149.5" y="343.1" font-size="11" font-weight="bold" textLength="32.8" lengthAdjust="spacingAndGlyphs">Model</text>
<g transform="translate(14.6 128.7) rotate(-90)"><text x="0" y="0" font-size="12" font-weight="bold" text-anchor="middle" textLength="60" lengthAdjust="spacingAndGlyphs"><tspan font-style="italic">Q</tspan> (µl/min)</text></g>
<g transform="translate(371.7 125.2) rotate(-90)"><text x="0" y="0" font-size="12" font-weight="bold" text-anchor="middle" textLength="60.2" lengthAdjust="spacingAndGlyphs"><tspan font-style="italic">Q</tspan> (µl/min)</text></g>
<g transform="translate(15.4 418.6) rotate(-90)"><text x="0" y="0" font-size="12" font-weight="bold" text-anchor="middle" textLength="55" lengthAdjust="spacingAndGlyphs">(mg/min)</text></g>
<g transform="translate(15.6 465.6) rotate(-90)"><text x="0" y="0" font-size="15" font-style="italic" style="font-family:'Liberation Serif',serif" textLength="14.3" lengthAdjust="spacingAndGlyphs">m</text></g>
<circle cx="5.3" cy="457.5" r="0.8" fill="#000" stroke="#000" stroke-width="0.2"/>
<text x="170.4" y="282.4" font-size="12" font-weight="bold" textLength="53.6" lengthAdjust="spacingAndGlyphs">Δp (kPa)</text>
<text x="525.8" y="282.8" font-size="12" font-weight="bold" textLength="53.6" lengthAdjust="spacingAndGlyphs">Δp (kPa)</text>
<text x="172.3" y="574.2" font-size="12" font-weight="bold" textLength="54" lengthAdjust="spacingAndGlyphs">Δp (kPa)</text>
<text x="0.4" y="11.6" font-size="14.4" font-weight="bold" textLength="18" lengthAdjust="spacingAndGlyphs" style="stroke-width:0">(a)</text>
<text x="356.6" y="12.8" font-size="14.2" font-weight="bold" textLength="19.2" lengthAdjust="spacingAndGlyphs" style="stroke-width:0">(b)</text>
<text x="0.4" y="303.6" font-size="14.2" font-weight="bold" textLength="18.3" lengthAdjust="spacingAndGlyphs" style="stroke-width:0">(c)</text>
<text x="359.6" y="306.3" font-size="14.2" font-weight="bold" textLength="19.3" lengthAdjust="spacingAndGlyphs" style="stroke-width:0">(d)</text>
<line x1="395.5" y1="399.54" x2="475" y2="399.54" stroke="#000" stroke-width="2.8" stroke-dasharray="8.9 3.8"/>
<line x1="476" y1="359.38" x2="693.5" y2="359.38" stroke="#000" stroke-width="2.8" stroke-dasharray="26.5 9.6 2.5 9.65"/>
<path d="M477 299.3H395.5V540.2H477" fill="none" stroke="#000" stroke-width="2.8"/>
<path d="M482.2 299.3H626.3M482.2 540.2H626.3" fill="none" stroke="#000" stroke-width="2.8"/>
<path d="M631.5 299.3H699V540.2H631.5" fill="none" stroke="#000" stroke-width="2.8"/>
<line x1="472.45" y1="305.8" x2="479.85" y2="292.8" stroke="#000" stroke-width="2.7"/>
<line x1="479.35" y1="305.8" x2="486.75" y2="292.8" stroke="#000" stroke-width="2.7"/>
<line x1="472.45" y1="546.7" x2="479.85" y2="533.7" stroke="#000" stroke-width="2.7"/>
<line x1="479.35" y1="546.7" x2="486.75" y2="533.7" stroke="#000" stroke-width="2.7"/>
<line x1="621.75" y1="305.8" x2="629.15" y2="292.8" stroke="#000" stroke-width="2.7"/>
<line x1="628.65" y1="305.8" x2="636.05" y2="292.8" stroke="#000" stroke-width="2.7"/>
<line x1="621.75" y1="546.7" x2="629.15" y2="533.7" stroke="#000" stroke-width="2.7"/>
<line x1="628.65" y1="546.7" x2="636.05" y2="533.7" stroke="#000" stroke-width="2.7"/>
<line x1="395.5" y1="499.94" x2="399" y2="499.94" stroke="#000" stroke-width="2.6"/>
<line x1="395.5" y1="459.78" x2="399" y2="459.78" stroke="#000" stroke-width="2.6"/>
<line x1="395.5" y1="419.62" x2="399" y2="419.62" stroke="#000" stroke-width="2.6"/>
<line x1="395.5" y1="379.46" x2="399" y2="379.46" stroke="#000" stroke-width="2.6"/>
<line x1="395.5" y1="339.3" x2="399" y2="339.3" stroke="#000" stroke-width="2.6"/>
<text x="383.8" y="544.5" font-size="12.5" font-weight="bold" text-anchor="end">1</text>
<text x="383.8" y="504.34" font-size="12.5" font-weight="bold" text-anchor="end">1.1</text>
<text x="383.8" y="464.18" font-size="12.5" font-weight="bold" text-anchor="end">1.2</text>
<text x="383.8" y="424.02" font-size="12.5" font-weight="bold" text-anchor="end">1.3</text>
<text x="383.8" y="383.86" font-size="12.5" font-weight="bold" text-anchor="end">1.4</text>
<text x="383.8" y="343.7" font-size="12.5" font-weight="bold" text-anchor="end">1.5</text>
<line x1="453.9" y1="540.2" x2="453.9" y2="536.7" stroke="#000" stroke-width="2.4"/>
<line x1="503.2" y1="540.2" x2="503.2" y2="536.7" stroke="#000" stroke-width="2.4"/>
<line x1="601.6" y1="540.2" x2="601.6" y2="536.7" stroke="#000" stroke-width="2.4"/>
<line x1="649.3" y1="540.2" x2="649.3" y2="536.7" stroke="#000" stroke-width="2.4"/>
<text x="394.7" y="560.7" font-size="12.5" font-weight="bold" text-anchor="middle">0</text>
<text x="453.9" y="560.7" font-size="12.5" font-weight="bold" text-anchor="middle">0.02</text>
<text x="503.2" y="560.7" font-size="12.5" font-weight="bold" text-anchor="middle">0.5</text>
<text x="601.7" y="560.7" font-size="12.5" font-weight="bold" text-anchor="middle">1</text>
<text x="649" y="560.7" font-size="12.5" font-weight="bold" text-anchor="middle">2.2</text>
<text x="698.4" y="560.7" font-size="12.5" font-weight="bold" text-anchor="middle">2.5</text>
<text x="519.3" y="573.3" font-size="12" font-weight="bold" textLength="58.6" lengthAdjust="spacingAndGlyphs"><tspan font-style="italic">μ</tspan> (mPa·s)</text>
<g transform="translate(361.6 402.9) rotate(-90)"><text x="0" y="0" font-size="13" font-weight="normal" font-style="italic" text-anchor="middle" stroke="#000" stroke-width="0.35" style="font-family:'Liberation Serif',serif">η</text></g>
<line x1="449.6" y1="386.2" x2="449.6" y2="469" stroke="#000" stroke-width="2.5"/>
<line x1="446.3" y1="386.2" x2="452.9" y2="386.2" stroke="#000" stroke-width="2.4"/>
<line x1="446.3" y1="469" x2="452.9" y2="469" stroke="#000" stroke-width="2.4"/>
<rect x="444.35" y="422.85" width="10.3" height="10.3" fill="#B3AFAF" stroke="#000" stroke-width="1.7"/>
<line x1="423.2" y1="449.6" x2="441.5" y2="434.3" stroke="#000" stroke-width="1.2"/>
<text x="409.6" y="461.8" font-size="11.5" font-weight="bold" textLength="15.6" lengthAdjust="spacingAndGlyphs">Air</text>
<line x1="520.9" y1="308.9" x2="520.9" y2="368.8" stroke="#000" stroke-width="2.5"/>
<line x1="517.1" y1="308.9" x2="524.7" y2="308.9" stroke="#000" stroke-width="2.4"/>
<line x1="517.1" y1="368.8" x2="524.7" y2="368.8" stroke="#000" stroke-width="2.4"/>
<path d="M520.9 333.9 L528.2 346.0 L513.6 346.0 Z" fill="#FFE699" stroke="#000" stroke-width="1.4" stroke-linejoin="miter"/>
<line x1="492.8" y1="332.4" x2="513" y2="339.3" stroke="#000" stroke-width="1.2"/>
<text x="439.5" y="333.5" font-size="11.5" font-weight="bold" textLength="51.2" lengthAdjust="spacingAndGlyphs">Methanol</text>
<line x1="580.1" y1="386.3" x2="580.1" y2="408.1" stroke="#000" stroke-width="2.5"/>
<line x1="576.9" y1="386.3" x2="583.3" y2="386.3" stroke="#000" stroke-width="2.4"/>
<line x1="576.9" y1="408.1" x2="583.3" y2="408.1" stroke="#000" stroke-width="2.4"/>
<path d="M580.1 391.9L586.6 397.3L580.1 402.7L573.6 397.3Z" fill="#00B0F0" stroke="#000" stroke-width="1.5" stroke-linejoin="miter"/>
<line x1="588.8" y1="400.4" x2="595.6" y2="422.9" stroke="#000" stroke-width="1.2"/>
<text x="586.5" y="437.8" font-size="11.5" font-weight="bold" textLength="31.5" lengthAdjust="spacingAndGlyphs">Water</text>
<line x1="665.8" y1="371.7" x2="665.8" y2="395.5" stroke="#000" stroke-width="2.5"/>
<line x1="662.3" y1="371.7" x2="669.3" y2="371.7" stroke="#000" stroke-width="2.4"/>
<line x1="662.3" y1="395.5" x2="669.3" y2="395.5" stroke="#000" stroke-width="2.4"/>
<circle cx="665.8" cy="384" r="5.1" fill="#00B050" stroke="#2E75B6" stroke-width="1.5"/>
<line x1="670.8" y1="390.4" x2="672.4" y2="420" stroke="#000" stroke-width="1.2"/>
<text x="667" y="436.6" font-size="11.5" font-weight="bold" textLength="17.6" lengthAdjust="spacingAndGlyphs">IPA</text>
</svg></body></html>
